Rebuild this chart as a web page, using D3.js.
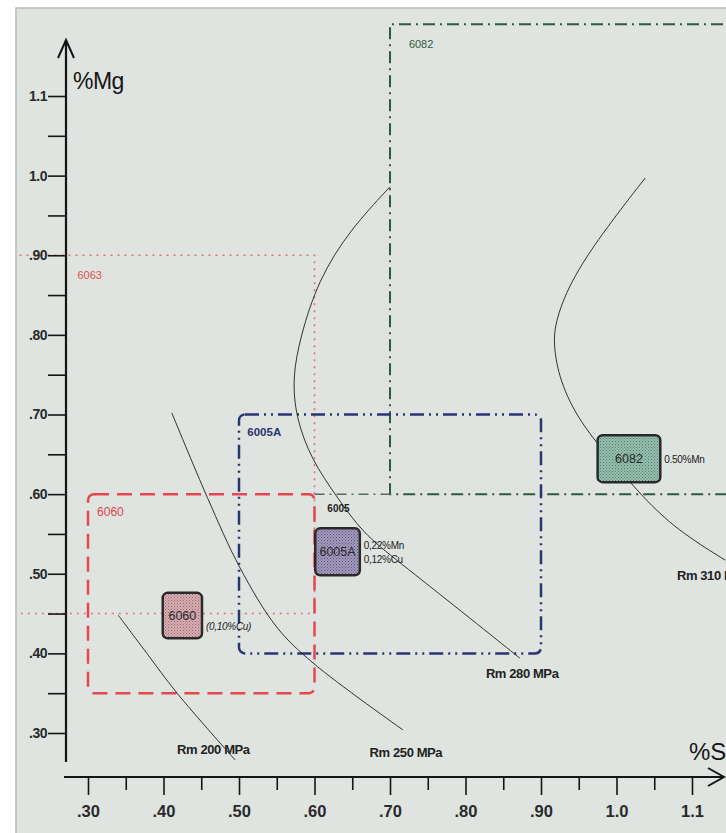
<!DOCTYPE html>
<html>
<head>
<meta charset="utf-8">
<script src="https://cdn.jsdelivr.net/npm/d3@7"></script>
<style>
  body { margin: 0; background: #ffffff; }
  svg { display: block; font-family: "Liberation Sans", Arial, sans-serif; }
</style>
</head>
<body>
<div id="chart"></div>
<script>
// ---- data (x = %Si, y = %Mg) ----
const siTicks = [0.30, 0.40, 0.50, 0.60, 0.70, 0.80, 0.90, 1.0, 1.1];
const siLabels = [".30", ".40", ".50", ".60", ".70", ".80", ".90", "1.0", "1.1"];
const siMinor = [0.35, 0.45, 0.55, 0.65, 0.75, 0.85, 0.95, 1.05];
const mgTicks = [0.30, 0.40, 0.50, 0.60, 0.70, 0.80, 0.90, 1.0, 1.1];
const mgLabels = [".30", ".40", ".50", ".60", ".70", ".80", ".90", "1.0", "1.1"];
const mgMinor = [0.35, 0.45, 0.55, 0.65, 0.75, 0.85, 0.95, 1.05];

// alloy composition ranges [siMin, siMax, mgMin, mgMax]
const range6060 = [0.30, 0.60, 0.35, 0.60];
const range6063 = [0.20, 0.60, 0.45, 0.90];
const range6005A = [0.50, 0.90, 0.40, 0.70];
const range6082 = [0.70, 1.30, 0.60, 1.19];
const range6005 = [0.60, 0.70, 0.60, 0.60];

// iso-strength curves [si, mg]
const rm200 = [[0.340, 0.448], [0.378, 0.400], [0.418, 0.350], [0.495, 0.266]];
const rm250 = [[0.411, 0.702], [0.458, 0.596], [0.501, 0.508], [0.550, 0.433], [0.598, 0.388], [0.717, 0.304]];
const rm280 = [[0.700, 0.986], [0.647, 0.932], [0.605, 0.869], [0.581, 0.797], [0.571, 0.747],
               [0.575, 0.697], [0.596, 0.643], [0.630, 0.596], [0.664, 0.551], [0.709, 0.517],
               [0.797, 0.451], [0.872, 0.394]];
const rm310 = [[1.038, 0.997], [0.987, 0.935], [0.942, 0.873], [0.919, 0.819], [0.916, 0.785],
               [0.927, 0.735], [0.956, 0.684], [1.001, 0.634], [1.035, 0.596], [1.080, 0.555],
               [1.144, 0.517]];
const curveNames = ["Rm 200 MPa", "Rm 250 MPa", "Rm 280 MPa", "Rm 310 MPa"];

// typical alloy points [siMin, siMax, mgMin, mgMax]
const alloyNames = ["6060", "6005A", "6082"];
const alloyBoxes = [[0.399, 0.451, 0.419, 0.476], [0.601, 0.660, 0.498, 0.557], [0.975, 1.058, 0.615, 0.674]];
const alloyNotes = [["(0,10%Cu)"], ["0,22%Mn", "0,12%Cu"], ["0.50%Mn"]];

// ---- layout ----
const W = 726, H = 833;
const frame = { left: 16, top: 8 };
const x = d3.scaleLinear().domain([0.3, 1.1]).range([88, 692]);
const y = d3.scaleLinear().domain([0.3, 1.1]).range([733, 96]);
const xAxisY = 777, yAxisX = 66;

const svg = d3.select("#chart").append("svg").attr("width", W).attr("height", H);

const defs = svg.append("defs");
defs.append("clipPath").attr("id", "frameClip")
  .append("rect").attr("x", frame.left).attr("y", frame.top)
  .attr("width", W - frame.left).attr("height", H - frame.top);

function hatch(id, base, dot) {
  const p = defs.append("pattern").attr("id", id).attr("patternUnits", "userSpaceOnUse")
    .attr("width", 3).attr("height", 3);
  p.append("rect").attr("width", 3).attr("height", 3).attr("fill", base);
  p.append("rect").attr("width", 1).attr("height", 1).attr("fill", dot);
  p.append("rect").attr("x", 1.5).attr("y", 1.5).attr("width", 1).attr("height", 1).attr("fill", dot);
}
hatch("h6060", "#dcaeb4", "#8e6a70");
hatch("h6005A", "#a59cc0", "#5b5478");
hatch("h6082", "#97c1b0", "#557a6c");
const alloyFill = ["url(#h6060)", "url(#h6005A)", "url(#h6082)"];

// frame background
svg.append("rect").attr("x", frame.left).attr("y", frame.top)
  .attr("width", W - frame.left + 2).attr("height", H - frame.top + 2)
  .attr("fill", "#dfe4e0").attr("stroke", "#b9bcb9").attr("stroke-width", 1.5);

const plot = svg.append("g").attr("clip-path", "url(#frameClip)");

// 6063 dotted range (open on the left)
plot.append("path")
  .attr("d", `M${x(range6063[0])},${y(range6063[3])} H${x(range6063[1])} V${y(range6063[2])} H${x(range6063[0])}`)
  .attr("fill", "none").attr("stroke", "#e36f6e").attr("stroke-width", 1.6)
  .attr("stroke-dasharray", "2,5");

// 6082 dash-dot range
plot.append("path")
  .attr("d", `M${x(range6082[1])},${y(range6082[3])} H${x(range6082[0])} V${y(range6082[2])} H${x(range6082[1])}`)
  .attr("fill", "none").attr("stroke", "#2f5a45").attr("stroke-width", 2)
  .attr("stroke-dasharray", "12,5,2,5");

// 6005 segment
plot.append("line")
  .attr("x1", x(range6005[0])).attr("x2", x(range6005[1]))
  .attr("y1", y(range6005[2])).attr("y2", y(range6005[3]))
  .attr("stroke", "#56695e").attr("stroke-width", 1.5).attr("stroke-dasharray", "10,5,2,5");

// 6005A dash-dot-dot range
plot.append("rect")
  .attr("x", x(range6005A[0])).attr("y", y(range6005A[3]))
  .attr("width", x(range6005A[1]) - x(range6005A[0]))
  .attr("height", y(range6005A[2]) - y(range6005A[3]))
  .attr("rx", 6)
  .attr("fill", "none").attr("stroke", "#2b3472").attr("stroke-width", 2.5)
  .attr("stroke-dasharray", "14,5,2,5,2,5");

// 6060 dashed range
plot.append("rect")
  .attr("x", x(range6060[0])).attr("y", y(range6060[3]))
  .attr("width", x(range6060[1]) - x(range6060[0]))
  .attr("height", y(range6060[2]) - y(range6060[3]))
  .attr("rx", 6)
  .attr("fill", "none").attr("stroke", "#e8464e").attr("stroke-width", 2.5)
  .attr("stroke-dasharray", "15,8");

// iso-strength curves
const lineA = d3.line().x(d => x(d[0])).y(d => y(d[1])).curve(d3.curveCatmullRom);
const lineB = d3.line().x(d => x(d[0])).y(d => y(d[1])).curve(d3.curveBasis);
plot.selectAll(".rm").data([rm200, rm250, rm280, rm310]).enter().append("path")
  .attr("class", "rm").attr("d", (d, i) => i < 2 ? lineA(d) : lineB(d))
  .attr("fill", "none").attr("stroke", "#1e1e1e").attr("stroke-width", 0.9);

// range labels
const rangeLabels = [
  { t: "6063", si: 0.286, mg: 0.87, c: "#e2504f", w: "normal", s: 11 },
  { t: "6060", si: 0.312, mg: 0.573, c: "#e2434a", w: "normal", s: 12 },
  { t: "6005A", si: 0.511, mg: 0.673, c: "#2b3472", w: "bold", s: 11.5 },
  { t: "6082", si: 0.725, mg: 1.160, c: "#2f5a45", w: "normal", s: 11 },
  { t: "6005", si: 0.617, mg: 0.578, c: "#222", w: "bold", s: 10 }
];
plot.selectAll(".rlab").data(rangeLabels).enter().append("text")
  .attr("x", d => x(d.si)).attr("y", d => y(d.mg))
  .attr("font-size", d => d.s).attr("font-weight", d => d.w)
  .attr("fill", d => d.c).text(d => d.t);

// alloy boxes
const ag = plot.selectAll(".alloy").data(alloyNames).enter().append("g").attr("class", "alloy");
ag.append("rect")
  .attr("x", (d, i) => x(alloyBoxes[i][0])).attr("y", (d, i) => y(alloyBoxes[i][3]))
  .attr("width", (d, i) => x(alloyBoxes[i][1]) - x(alloyBoxes[i][0]))
  .attr("height", (d, i) => y(alloyBoxes[i][2]) - y(alloyBoxes[i][3]))
  .attr("rx", 5).attr("fill", (d, i) => alloyFill[i])
  .attr("stroke", "#2a2a2a").attr("stroke-width", 2.5);
ag.append("text")
  .attr("x", (d, i) => (x(alloyBoxes[i][0]) + x(alloyBoxes[i][1])) / 2)
  .attr("y", (d, i) => (y(alloyBoxes[i][2]) + y(alloyBoxes[i][3])) / 2 + 4.5)
  .attr("text-anchor", "middle").attr("font-size", 12.5).attr("fill", "#2a2a2a")
  .text(d => d);
ag.each(function (d, i) {
  const g = d3.select(this);
  const bx = x(alloyBoxes[i][1]) + 4;
  const cy = (y(alloyBoxes[i][2]) + y(alloyBoxes[i][3])) / 2;
  const n = alloyNotes[i];
  n.forEach((t, k) => {
    const dy = i === 0 ? 14 : (n.length === 1 ? 4 : -3 + k * 14);
    g.append("text").attr("x", bx).attr("y", cy + dy)
      .attr("font-size", 10).attr("font-style", i === 0 ? "italic" : "normal")
      .attr("letter-spacing", -0.3)
      .attr("fill", "#222").text(t);
  });
});

// curve labels
const curveLabelPos = [[0.418, 0.273], [0.673, 0.270], [0.827, 0.369], [1.08, 0.492]];
plot.selectAll(".clab").data(curveNames).enter().append("text")
  .attr("x", (d, i) => x(curveLabelPos[i][0])).attr("y", (d, i) => y(curveLabelPos[i][1]))
  .attr("font-size", 13).attr("font-weight", "bold").attr("fill", "#222")
  .attr("letter-spacing", -0.4)
  .text(d => d);

// ---- axes ----
const axisColor = "#151515";
// y axis
const yAx = svg.append("g").attr("transform", `translate(${yAxisX},0)`)
  .call(d3.axisLeft(y).tickValues(mgTicks).tickSize(18).tickPadding(1)
    .tickFormat((d, i) => mgLabels[i]));
yAx.select(".domain").remove();
svg.append("g").attr("transform", `translate(${yAxisX},0)`)
  .call(d3.axisLeft(y).tickValues(mgMinor).tickSize(18).tickFormat(""))
  .select(".domain").remove();
yAx.selectAll("text").attr("font-size", 14).attr("font-weight", "bold").attr("fill", "#2a2a2a")
  .attr("letter-spacing", -0.5)
  .attr("font-family", "Liberation Sans, Arial, sans-serif");
svg.selectAll(".tick line").attr("stroke", axisColor).attr("stroke-width", 1.6);
svg.append("line").attr("x1", yAxisX).attr("x2", yAxisX).attr("y1", 40).attr("y2", 762)
  .attr("stroke", axisColor).attr("stroke-width", 2.2);
svg.append("path").attr("d", `M${yAxisX - 8},${58} L${yAxisX},${40} L${yAxisX + 8},${58}`)
  .attr("fill", "none").attr("stroke", axisColor).attr("stroke-width", 2);

// x axis
const xAx = svg.append("g").attr("transform", `translate(0,${xAxisY})`)
  .call(d3.axisBottom(x).tickValues(siTicks).tickSize(18).tickPadding(10)
    .tickFormat((d, i) => siLabels[i]));
xAx.select(".domain").remove();
const xMin = svg.append("g").attr("transform", `translate(0,${xAxisY})`)
  .call(d3.axisBottom(x).tickValues(siMinor).tickSize(13).tickFormat(""));
xMin.select(".domain").remove();
xAx.selectAll("text").attr("font-size", 16.5).attr("font-weight", "bold").attr("fill", "#2a2a2a")
  .attr("font-family", "Liberation Sans, Arial, sans-serif");
svg.selectAll(".tick line").attr("stroke", axisColor).attr("stroke-width", 1.6);
svg.append("line").attr("x1", 64).attr("x2", 724).attr("y1", xAxisY).attr("y2", xAxisY)
  .attr("stroke", axisColor).attr("stroke-width", 2.2);
svg.append("path").attr("d", `M${708},${xAxisY - 9} L${724},${xAxisY} L${708},${xAxisY + 9}`)
  .attr("fill", "none").attr("stroke", axisColor).attr("stroke-width", 2);

// axis titles
svg.append("text").attr("x", 73).attr("y", 89).attr("font-size", 23)
  .attr("fill", axisColor).attr("letter-spacing", -0.5).text("%Mg");
svg.append("text").attr("x", 689).attr("y", 760).attr("font-size", 24)
  .attr("fill", axisColor).text("%Si");
</script>
</body>
</html>
